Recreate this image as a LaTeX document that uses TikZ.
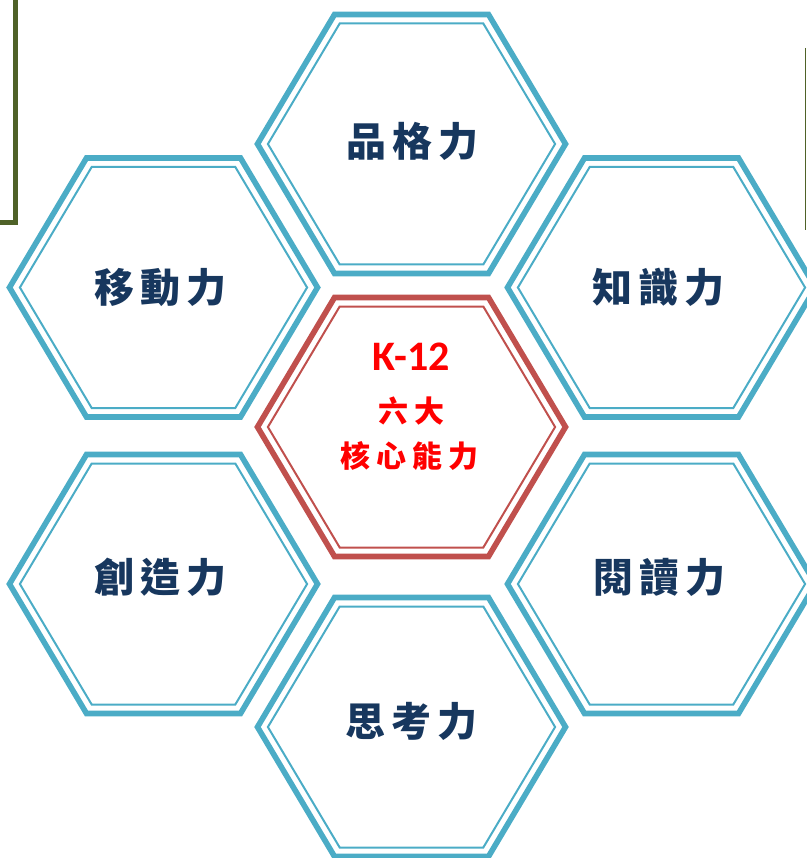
\documentclass[tikz,border=0pt]{standalone}
\usepackage{fontspec}
\setmainfont{Carlito}
\newfontfamily\cjk{Noto Sans CJK TC}
\definecolor{hexblue}{HTML}{4BACC6}
\definecolor{hexred}{HTML}{C0504D}
\definecolor{txtblue}{HTML}{17375E}
\definecolor{txtred}{HTML}{FF0000}
\definecolor{boxgreen}{HTML}{4F6228}
\tikzset{
  outerring/.style={line width=5.6pt,line join=miter},
  innerring/.style={line width=2pt,line join=miter},
  bluelbl/.style={inner sep=0pt,text=txtblue,font=\cjk\bfseries\fontsize{40}{44}\selectfont},
  redcjk/.style={inner sep=0pt,text=txtred,font=\cjk\bfseries\fontsize{30}{34}\selectfont},
  redlatin/.style={inner sep=0pt,text=txtred,font=\bfseries\fontsize{42}{46}\selectfont},
}
\newcommand\hexring[2]{%
  \draw[outerring,#2] ([shift={(-154,0)}]#1) -- ([shift={(-77,-129.5)}]#1) -- ([shift={(77,-129.5)}]#1)
     -- ([shift={(154,0)}]#1) -- ([shift={(77,129.5)}]#1) -- ([shift={(-77,129.5)}]#1) -- cycle;
  \draw[innerring,#2] ([shift={(-143.6,0)}]#1) -- ([shift={(-71.8,-120.5)}]#1) -- ([shift={(71.8,-120.5)}]#1)
     -- ([shift={(143.6,0)}]#1) -- ([shift={(71.8,120.5)}]#1) -- ([shift={(-71.8,120.5)}]#1) -- cycle;
}
\begin{document}
\begin{tikzpicture}[x=1pt,y=-1pt]
\useasboundingbox (0,0) rectangle (806,858);
% hexagon centres
\coordinate (hTop) at (411.5,144);
\coordinate (hMid) at (411.5,427);
\coordinate (hBot) at (411.5,727);
\coordinate (hUL) at (163.5,287.5);
\coordinate (hUR) at (661.5,287.5);
\coordinate (hLL) at (163.5,584);
\coordinate (hLR) at (661.5,584);
% frames at the edges
\draw[boxgreen,line width=5pt,line join=miter] (-10,-4) rectangle (15.5,223);
\draw[boxgreen,line width=1.2pt] (805.5,48) -- (805.5,230);
% hexagons
\hexring{hTop}{hexblue}
\hexring{hUL}{hexblue}
\hexring{hUR}{hexblue}
\hexring{hLL}{hexblue}
\hexring{hLR}{hexblue}
\hexring{hBot}{hexblue}
\hexring{hMid}{hexred}
% labels
\node[bluelbl] (tPin) at (412,141) {品\hspace{6pt}格\hspace{6pt}力};
\node[bluelbl] (tMove) at (160,287) {移\hspace{6pt}動\hspace{6pt}力};
\node[bluelbl] (tKnow) at (658,287) {知\hspace{6pt}識\hspace{6pt}力};
\node[bluelbl] (tCreate) at (160,577) {創\hspace{6pt}造\hspace{6pt}力};
\node[bluelbl] (tRead) at (659,577) {閱\hspace{6pt}讀\hspace{6pt}力};
\node[bluelbl] (tThink) at (411,721) {思\hspace{6pt}考\hspace{6pt}力};
\node[redlatin] (tK) at (411,357) {K-12};
\node[redcjk] (tSix) at (411,411) {六\hspace{6pt}大};
\node[redcjk] (tCore) at (409,456) {核\hspace{6pt}心\hspace{6pt}能\hspace{6pt}力};
\end{tikzpicture}
\end{document}
